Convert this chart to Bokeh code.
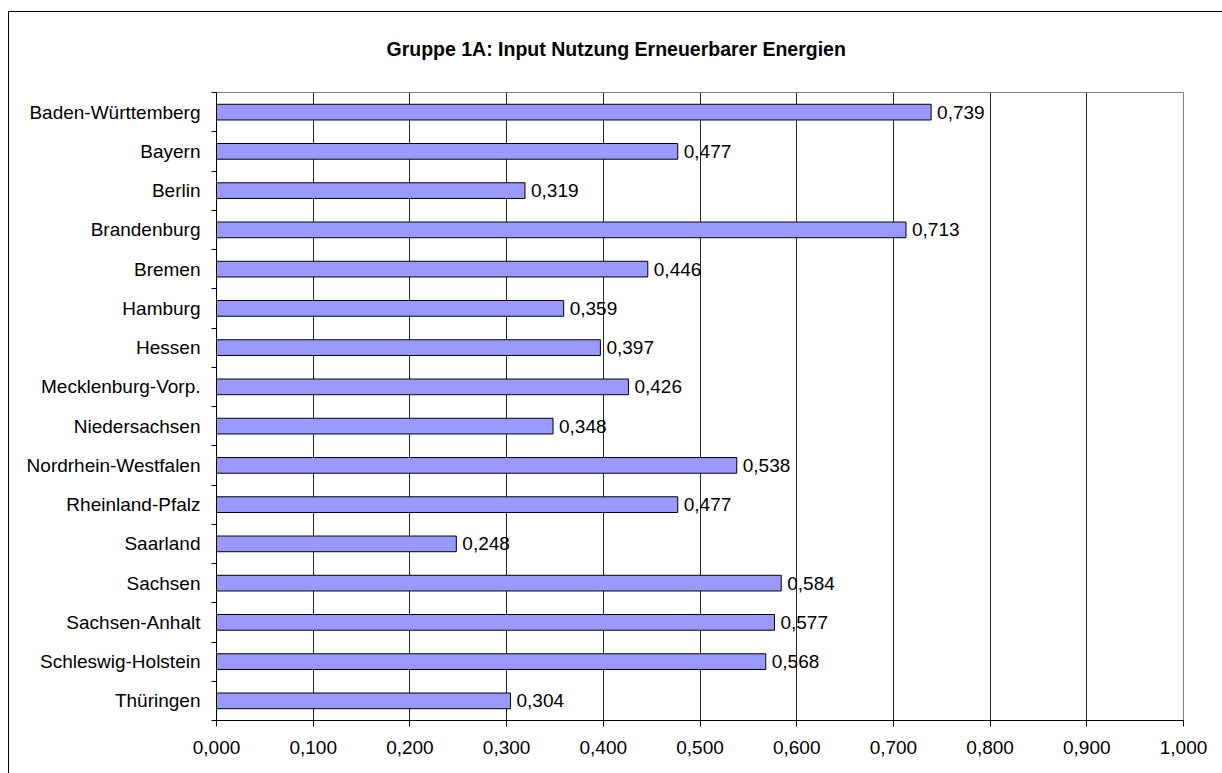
from bokeh.plotting import figure
from bokeh.models import Range1d, FixedTicker, CustomJSTickFormatter, ColumnDataSource, InlineStyleSheet
from bokeh.core.properties import value
from bokeh.embed import file_html
from bokeh.resources import INLINE

title_text = "Gruppe 1A: Input Nutzung Erneuerbarer Energien"
states = ["Baden-Württemberg", "Bayern", "Berlin", "Brandenburg", "Bremen", "Hamburg",
          "Hessen", "Mecklenburg-Vorp.", "Niedersachsen", "Nordrhein-Westfalen",
          "Rheinland-Pfalz", "Saarland", "Sachsen", "Sachsen-Anhalt",
          "Schleswig-Holstein", "Thüringen"]
values = [0.739, 0.477, 0.319, 0.713, 0.446, 0.359, 0.397, 0.426, 0.348, 0.538,
          0.477, 0.248, 0.584, 0.577, 0.568, 0.304]
x_ticks = [0.0, 0.1, 0.2, 0.3, 0.4, 0.5, 0.6, 0.7, 0.8, 0.9, 1.0]

n = len(states)
ypos = [n - i - 0.5 for i in range(n)]
labels = [f"{v:.3f}".replace(".", ",") for v in values]
src = ColumnDataSource(dict(y=ypos, v=values, lab=labels, name=states))

FONT = "Liberation Sans"

border_css = InlineStyleSheet(css="""
:host { position: relative; }
:host::after {
  content: "";
  position: absolute;
  left: 8px; top: 11px; right: 0px; bottom: 0px;
  border-top: 1px solid black;
  border-left: 1px solid black;
  pointer-events: none;
}
""")

p = figure(width=1222, height=773, output_backend="svg", toolbar_location=None,
           x_range=Range1d(0, 1.0), y_range=Range1d(0, n),
           min_border_left=216, min_border_right=39, min_border_top=92, min_border_bottom=53,
           stylesheets=[border_css])

p.title.text = title_text
p.title.align = "left"
p.title.text_font = FONT
p.title.text_font_size = "19.5px"
p.title.text_font_style = "bold"
p.title.text_color = "black"
p.title.offset = 170
p.title.standoff = 66

p.outline_line_color = "#808080"
p.background_fill_color = "white"
p.border_fill_color = "white"

p.hbar(y="y", right="v", left=0, height=0.4, source=src,
       fill_color="#9999FF", line_color="black", line_width=1)
p.text(x="v", y="y", text="lab", source=src, x_offset=6,
       text_font=value(FONT), text_font_size="19px", text_baseline="middle",
       text_align="left", text_color="black")

# x axis
p.xaxis.ticker = FixedTicker(ticks=x_ticks)
p.xaxis.formatter = CustomJSTickFormatter(code="return tick.toFixed(3).replace('.', ',');")
p.xaxis.major_tick_out = 6
p.xaxis.major_tick_in = 0
p.xaxis.minor_tick_line_color = None
p.xaxis.major_label_text_font = FONT
p.xaxis.major_label_text_font_size = "19px"
p.xaxis.major_label_text_color = "black"
p.xaxis.major_label_standoff = 14
p.xaxis.axis_line_color = "black"

# y axis
p.yaxis.ticker = FixedTicker(ticks=ypos, minor_ticks=list(range(n + 1)))
p.yaxis.major_label_overrides = {y: s for y, s in zip(ypos, states)}
p.yaxis.major_tick_line_color = None
p.yaxis.major_tick_out = 0
p.yaxis.major_tick_in = 0
p.yaxis.minor_tick_out = 5
p.yaxis.minor_tick_in = 0
p.yaxis.minor_tick_line_color = "black"
p.yaxis.major_label_text_font = FONT
p.yaxis.major_label_text_font_size = "19px"
p.yaxis.major_label_text_color = "black"
p.yaxis.major_label_standoff = 11
p.yaxis.axis_line_color = "black"

p.xgrid.ticker = FixedTicker(ticks=x_ticks)
p.xgrid.grid_line_color = "black"
p.xgrid.grid_line_alpha = 0.85
p.ygrid.grid_line_color = None

open("out.html", "w").write(file_html(p, INLINE))
